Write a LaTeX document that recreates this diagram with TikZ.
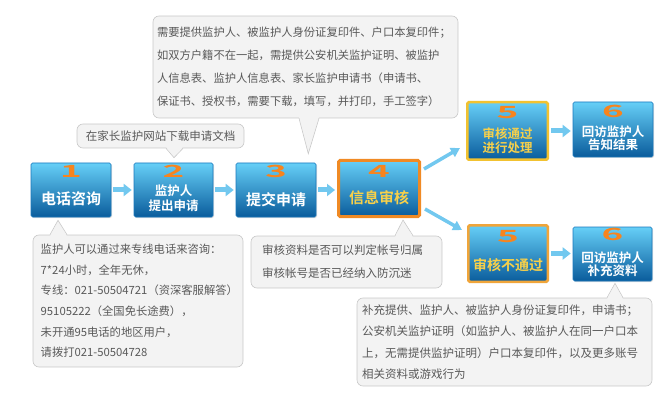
\documentclass[tikz,border=0pt]{standalone}
\usepackage{fontspec}
\setmainfont{Noto Sans CJK SC}[BoldFont={Noto Sans CJK SC Bold}]
\usetikzlibrary{arrows.meta,calc,shadows}

\definecolor{boxtop}{HTML}{66CFF7}
\definecolor{boxmid}{HTML}{1C8FD6}
\definecolor{boxbot}{HTML}{0A5C9C}
\definecolor{boxedge}{HTML}{1A78BC}
\definecolor{hotedge}{HTML}{F08A24}
\definecolor{goldedge}{HTML}{F2C230}
\definecolor{passedge}{HTML}{F0A53A}
\definecolor{goldtext}{HTML}{F7D04A}
\definecolor{digitorange}{HTML}{F7841E}
\definecolor{arrowblue}{HTML}{72C8EF}
\definecolor{calloutfill}{HTML}{F3F3F3}
\definecolor{calloutedge}{HTML}{C8C8C8}
\definecolor{callouttext}{HTML}{595959}

\begin{document}
\begin{tikzpicture}[x=1pt,y=-1pt]
        % Style definitions
        \tikzset{
            stepbox/.style={draw=boxedge, line width=0.6pt, rounded corners=1.5pt,
                top color=boxtop, middle color=boxmid, bottom color=boxbot,
                minimum width=80pt, minimum height=54pt, inner sep=0pt,
                drop shadow={opacity=0.25, shadow xshift=1pt, shadow yshift=-1pt}},
            digit/.style={text=digitorange, font=\fontsize{16}{16}\selectfont\bfseries,
                xscale=2.3, yscale=1.05, transform shape, inner sep=0pt},
            boxtext/.style={text=white, font=\fontsize{15}{17}\selectfont\bfseries,
                align=center, inner sep=0pt},
            smalltext/.style={boxtext, font=\fontsize{12.5}{14.5}\selectfont\bfseries},
            callout/.style={draw=calloutedge, fill=calloutfill, line width=0.6pt,
                rounded corners=6pt, inner sep=0pt, text=callouttext, align=left},
            tailfill/.style={fill=calloutfill},
            tailline/.style={draw=calloutedge, line width=0.6pt},
            flowarrow/.style={draw=arrowblue, line width=5pt,
                -{Triangle[length=8pt,width=12pt]}, shorten <=2pt, shorten >=2pt},
            diagarrow/.style={draw=arrowblue, line width=3.5pt,
                -{Triangle[length=9pt,width=10pt]}}
        }

        \useasboundingbox (0,0) rectangle (668,403);

        % ==========================================
        % STEP BOXES
        % ==========================================
        \node[stepbox] (b1) at (71,190) {};
        \node[stepbox, minimum width=79pt] (b2) at (173.5,190) {};
        \node[stepbox] (b3) at (276,190) {};
        \node[stepbox, draw=hotedge, line width=3pt, minimum width=81pt, minimum height=56pt] (b4) at (379,188.5) {};
        \node[stepbox, draw=goldedge, line width=2.5pt, minimum width=80.5pt, minimum height=57.5pt] (b5t) at (507.5,131) {};
        \node[stepbox, minimum width=80pt, minimum height=55pt] (b6t) at (613,129.5) {};
        \node[stepbox, draw=passedge, line width=2.5pt, minimum width=79.5pt, minimum height=56.5pt] (b5b) at (508,253.5) {};
        \node[stepbox, minimum width=79pt, minimum height=54pt] (b6b) at (612.5,254) {};

        % Numbers and labels
        \node[digit] at ($(b1.north)+(0,9)$) {1};
        \node[boxtext] at ($(b1.north)+(0,36)$) {电话咨询};

        \node[digit] at ($(b2.north)+(0,9)$) {2};
        \node[smalltext] at ($(b2.north)+(0,35.5)$) {监护人\\提出申请};

        \node[digit] at ($(b3.north)+(0,9)$) {3};
        \node[boxtext] at ($(b3.north)+(0,37)$) {提交申请};

        \node[digit] at ($(b4.north)+(0,12.5)$) {4};
        \node[boxtext, text=goldtext] at ($(b4.north)+(0,39)$) {信息审核};

        \node[digit] at ($(b5t.north)+(0,11.5)$) {5};
        \node[smalltext, text=goldtext] at ($(b5t.north)+(0,39.5)$) {审核通过\\进行处理};

        \node[digit] at ($(b6t.north)+(0,10)$) {6};
        \node[smalltext, font=\fontsize{12.5}{13}\selectfont\bfseries] at ($(b6t.north)+(0,37)$) {回访监护人\\告知结果};

        \node[digit] at ($(b5b.north)+(0,12.5)$) {5};
        \node[boxtext, text=goldtext, font=\fontsize{14}{16}\selectfont\bfseries] at ($(b5b.north)+(0,41)$) {审核不通过};

        \node[digit] at ($(b6b.north)+(0,8)$) {6};
        \node[smalltext, font=\fontsize{12.5}{13}\selectfont\bfseries] at ($(b6b.north)+(0,37.5)$) {回访监护人\\补充资料};

        % ==========================================
        % ARROWS
        % ==========================================
        \draw[flowarrow] (b1) -- (b2);
        \draw[flowarrow] (b2) -- (b3);
        \draw[flowarrow] (b3.east) -- (b3.east -| b4.west);
        \draw[diagarrow] ($(b4.north east)+(3,10)$) -- ($(b5t.south west)+(-6,-13)$);
        \draw[diagarrow] ($(b4.south east)+(4,-9)$) -- ($(b5b.north west)+(-5,6)$);
        \draw[flowarrow] (b5t.east) -- (b5t.east -| b6t.west);
        \draw[flowarrow] (b5b.east) -- (b5b.east -| b6b.west);

        % ==========================================
        % CALLOUTS
        % ==========================================
        \node[callout, minimum width=305pt, minimum height=102pt, text width=297pt,
            font=\fontsize{11.3}{23}\selectfont] (needs) at (305.5,67)
            {需要提供监护人、被监护人身份证复印件、户口本复印件；\\
             如双方户籍不在一起，需提供公安机关监护证明、被监护\\
             人信息表、监护人信息表、家长监护申请书（申请书、\\
             保证书、授权书，需要下载，填写，并打印，手工签字）};
        \fill[tailfill] ($(needs.south)+(-6.5,-1.5)$) -- ($(b3.north east)+(-8,-9)$) -- ($(needs.south)+(13.5,-1.5)$) -- cycle;
        \draw[tailline] ($(needs.south)+(-6.5,0)$) -- ($(b3.north east)+(-8,-9)$) -- ($(needs.south)+(13.5,0)$);

        \node[callout, minimum width=167pt, minimum height=24pt, align=center,
            font=\fontsize{11.5}{13}\selectfont] (download) at (160.5,136) {在家长监护网站下载申请文档};
        \fill[tailfill] ($(download.south)+(5.5,-1.5)$) -- ($(b2.north)+(0.5,-5)$) -- ($(download.south)+(22.5,-1.5)$) -- cycle;
        \draw[tailline] ($(download.south)+(5.5,0)$) -- ($(b2.north)+(0.5,-5)$) -- ($(download.south)+(22.5,0)$);

        \node[callout, minimum width=210pt, minimum height=132pt, text width=194.6pt,
            font=\fontsize{11.3}{20.6}\selectfont] (hotline) at (138,301)
            {监护人可以通过来专线电话来咨询：\\
             7*24小时，全年无休，\\
             \mbox{专线：021-50504721（资深客服解答）}\\
             95105222（全国免长途费），\\
             未开通95电话的地区用户，\\
             请拨打021-50504728};
        \fill[tailfill] ($(hotline.north)+(-88,1.5)$) -- ($(b1.south)+(-13,3)$) -- ($(hotline.north)+(-71,1.5)$) -- cycle;
        \draw[tailline] ($(hotline.north)+(-88,0)$) -- ($(b1.south)+(-13,3)$) -- ($(hotline.north)+(-71,0)$);

        \node[callout, minimum width=191pt, minimum height=52pt, text width=169pt,
            font=\fontsize{11.5}{23}\selectfont] (check) at (346.5,262)
            {审核资料是否可以判定帐号归属\\
             审核帐号是否已经纳入防沉迷};
        \fill[tailfill] ($(check.north)+(48.5,1.5)$) -- ($(b4.south)+(24,2)$) -- ($(check.north)+(66.5,1.5)$) -- cycle;
        \draw[tailline] ($(check.north)+(48.5,0)$) -- ($(b4.south)+(24,2)$) -- ($(check.north)+(66.5,0)$);

        \node[callout, minimum width=295pt, minimum height=88pt, text width=285pt,
            font=\fontsize{11.5}{21.3}\selectfont] (extra) at (504.5,342)
            {补充提供、监护人、被监护人身份证复印件，申请书；\\
             公安机关监护证明（如监护人、被监护人在同一户口本\\
             上，无需提供监护证明）户口本复印件，以及更多账号\\
             相关资料或游戏行为};
        \fill[tailfill] ($(extra.north)+(102.5,1.5)$) -- ($(b6b.south)+(2.5,2)$) -- ($(extra.north)+(118.5,1.5)$) -- cycle;
        \draw[tailline] ($(extra.north)+(102.5,0)$) -- ($(b6b.south)+(2.5,2)$) -- ($(extra.north)+(118.5,0)$);

\end{tikzpicture}
\end{document}
